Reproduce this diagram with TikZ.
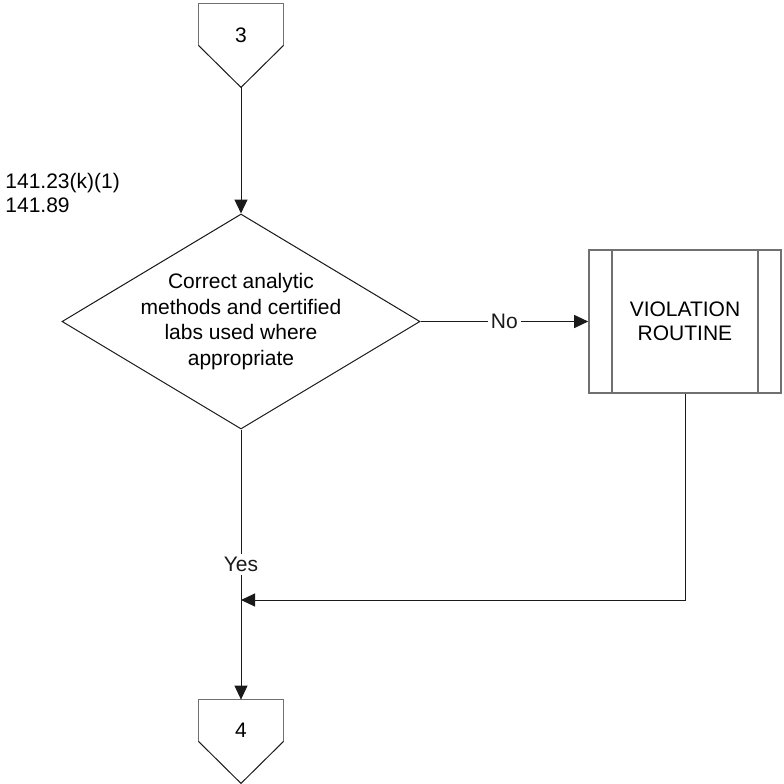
\documentclass[tikz,border=0pt]{standalone}
\usepackage{fontspec}
\setmainfont{Liberation Sans}
\usetikzlibrary{arrows.meta,shapes.geometric}
\definecolor{ink}{HTML}{1A1A1A}
\definecolor{frame}{HTML}{707070}
\tikzset{>={Triangle[length=7pt,width=6.5pt]},txt/.style={font=\fontsize{10.5}{12}\selectfont,align=center},offpage/.style={minimum width=42pt,minimum height=41.5pt,inner sep=0pt},decision/.style={diamond,aspect=1.665,draw=ink,line width=.5pt,minimum width=179pt,minimum height=107.5pt,inner sep=-1.5pt,txt,font=\fontsize{10.5}{12.8}\selectfont},subproc/.style={rectangle,draw=frame,line width=.8pt,minimum width=96pt,minimum height=71.5pt,txt},arr/.style={->,ink,line width=.5pt},lbl/.style={txt,fill=white,inner sep=1.5pt}}

\begin{document}
\begin{tikzpicture}[x=0.5pt,y=-0.5pt]
\useasboundingbox (0,0) rectangle (784,784);
% connector in
\node[offpage] (c3) at (241,45.5) {};
\draw[frame,line width=.8pt] (c3.west) -- (c3.north west) -- (c3.north east) -- (c3.east);
\draw[ink,line width=.5pt] (c3.east) -- (c3.south) -- (c3.west);
\node[txt] (n3) at (241,35) {3};
\node[txt,align=left,anchor=north west,inner sep=0pt] (refs) at (5,173) {141.23(k)(1)\\141.89};
\node[decision] (dec) at (241,321.5) {Correct analytic\\methods and certified\\labs used where\\appropriate};
\node[subproc] (vr) at (685,321.5) {VIOLATION\\ROUTINE};
\draw[frame,line width=.8pt] ([xshift=12pt]vr.north west) -- ([xshift=12pt]vr.south west) ([xshift=-12pt]vr.north east) -- ([xshift=-12pt]vr.south east);
% connector out
\node[offpage] (c4) at (241,741.5) {};
\draw[frame,line width=.8pt] (c4.west) -- (c4.north west) -- (c4.north east) -- (c4.east);
\draw[ink,line width=.5pt] (c4.east) -- (c4.south) -- (c4.west);
\node[txt] (n4) at (241,730) {4};
\coordinate (join) at (241,600);
\draw[arr] (c3.south) -- (dec.north);
\draw[arr] (dec.east) -- node[lbl] {No} (vr.west);
\draw[arr] (dec.south) -- node[lbl] {Yes} (c4.north);
\draw[arr] (vr.south) |- (join);
\end{tikzpicture}
\end{document}
